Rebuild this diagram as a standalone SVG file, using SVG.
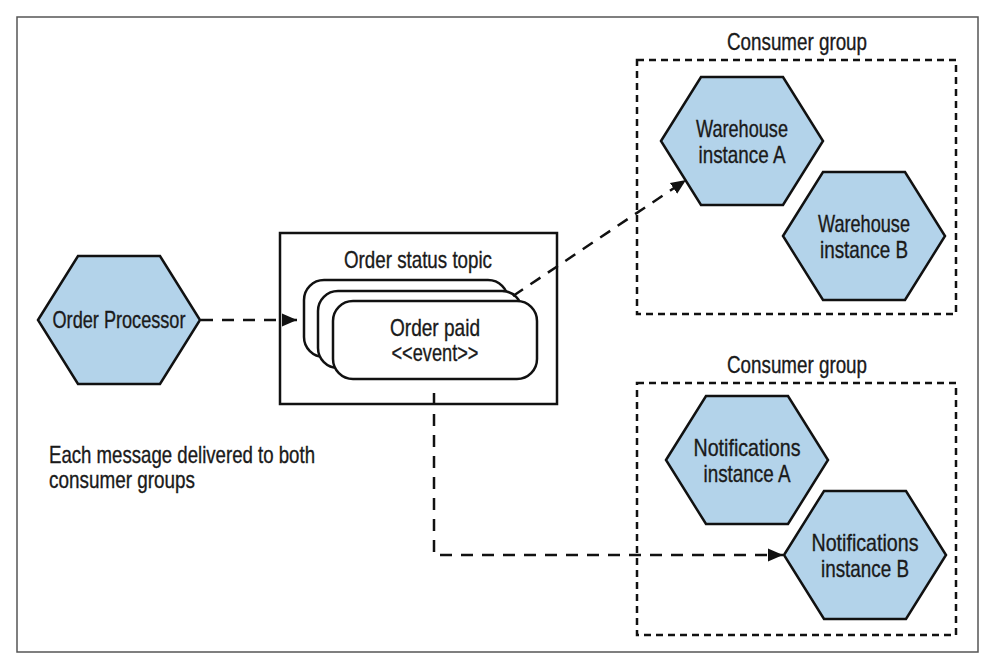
<svg xmlns="http://www.w3.org/2000/svg" width="994" height="662" viewBox="0 0 994 662">
<style>
.hex{fill:#b3d3ea;stroke:#111;stroke-width:2.5;stroke-linejoin:miter}
.card{fill:#fff;stroke:#111;stroke-width:2.5}
.box{fill:none;stroke:#111;stroke-width:2.5}
.grp{fill:none;stroke:#111;stroke-width:2.5;stroke-dasharray:7 5}
.conn{fill:none;stroke:#111;stroke-width:2.5;stroke-dasharray:12 9}
text{font-family:"Liberation Sans",Arial,sans-serif;font-size:24px;fill:#1a1a1a;stroke:#1a1a1a;stroke-width:0.35}
.c{text-anchor:middle}
</style>
<defs>
<marker id="arr" markerUnits="userSpaceOnUse" markerWidth="16" markerHeight="16" viewBox="0 0 16 16" refX="15" refY="8" orient="auto">
<path d="M0,1.5 L15,8 L0,14.5 Z" fill="#111"/>
</marker>
</defs>
<rect x="17" y="17" width="961" height="635" fill="#fff" stroke="#555" stroke-width="1.5"/>

<g id="order-processor">
<polygon class="hex" points="38,320 78,256 160,256 200,320 160,384 78,384"/>
<text class="c" x="119" y="328" textLength="133" lengthAdjust="spacingAndGlyphs">Order Processor</text>
</g>

<g id="order-status-topic">
<rect class="box" x="280" y="233" width="277" height="171"/>
<text class="c" x="418" y="268" textLength="148" lengthAdjust="spacingAndGlyphs">Order status topic</text>
</g>

<g id="order-paid-event">
<rect class="card" x="304" y="280" width="204" height="77" rx="20"/>
<rect class="card" x="318" y="291" width="204" height="77" rx="20"/>
<rect class="card" x="333" y="301" width="204" height="78" rx="20"/>
<text class="c" x="435" y="336" textLength="90" lengthAdjust="spacingAndGlyphs">Order paid</text>
<text class="c" x="435" y="361" textLength="87" lengthAdjust="spacingAndGlyphs">&lt;&lt;event&gt;&gt;</text>
</g>

<g id="warehouse-group">
<rect class="grp" x="637" y="60" width="319" height="254"/>
<text class="c" x="797" y="50" textLength="140" lengthAdjust="spacingAndGlyphs">Consumer group</text>
</g>

<g id="warehouse-a">
<polygon class="hex" points="661,141 701,77 783,77 823,141 783,205 701,205"/>
<text class="c" x="742" y="137" textLength="92" lengthAdjust="spacingAndGlyphs">Warehouse</text>
<text class="c" x="742" y="163" textLength="87" lengthAdjust="spacingAndGlyphs">instance A</text>
</g>

<g id="warehouse-b">
<polygon class="hex" points="783,236 823,172 905,172 945,236 905,300 823,300"/>
<text class="c" x="864" y="232" textLength="92" lengthAdjust="spacingAndGlyphs">Warehouse</text>
<text class="c" x="864" y="258" textLength="88" lengthAdjust="spacingAndGlyphs">instance B</text>
</g>

<g id="notifications-group">
<rect class="grp" x="637" y="383" width="319" height="252"/>
<text class="c" x="797" y="373" textLength="140" lengthAdjust="spacingAndGlyphs">Consumer group</text>
</g>

<g id="notifications-a">
<polygon class="hex" points="666,460 706,396 788,396 828,460 788,524 706,524"/>
<text class="c" x="747" y="456" textLength="107" lengthAdjust="spacingAndGlyphs">Notifications</text>
<text class="c" x="747" y="482" textLength="87" lengthAdjust="spacingAndGlyphs">instance A</text>
</g>

<g id="notifications-b">
<polygon class="hex" points="784,555 824,491 906,491 946,555 906,619 824,619"/>
<text class="c" x="865" y="551" textLength="107" lengthAdjust="spacingAndGlyphs">Notifications</text>
<text class="c" x="865" y="577" textLength="88" lengthAdjust="spacingAndGlyphs">instance B</text>
</g>

<g id="note">
<text x="49" y="463" textLength="266" lengthAdjust="spacingAndGlyphs">Each message delivered to both</text>
<text x="49" y="488" textLength="146" lengthAdjust="spacingAndGlyphs">consumer groups</text>
</g>

<g id="connectors">
<path class="conn" d="M201,320 L297,320" marker-end="url(#arr)"/>
<path class="conn" d="M513,296 L686,180" marker-end="url(#arr)"/>
<path class="conn" d="M434,393 L434,555 L783,555" marker-end="url(#arr)"/>
</g>
</svg>
